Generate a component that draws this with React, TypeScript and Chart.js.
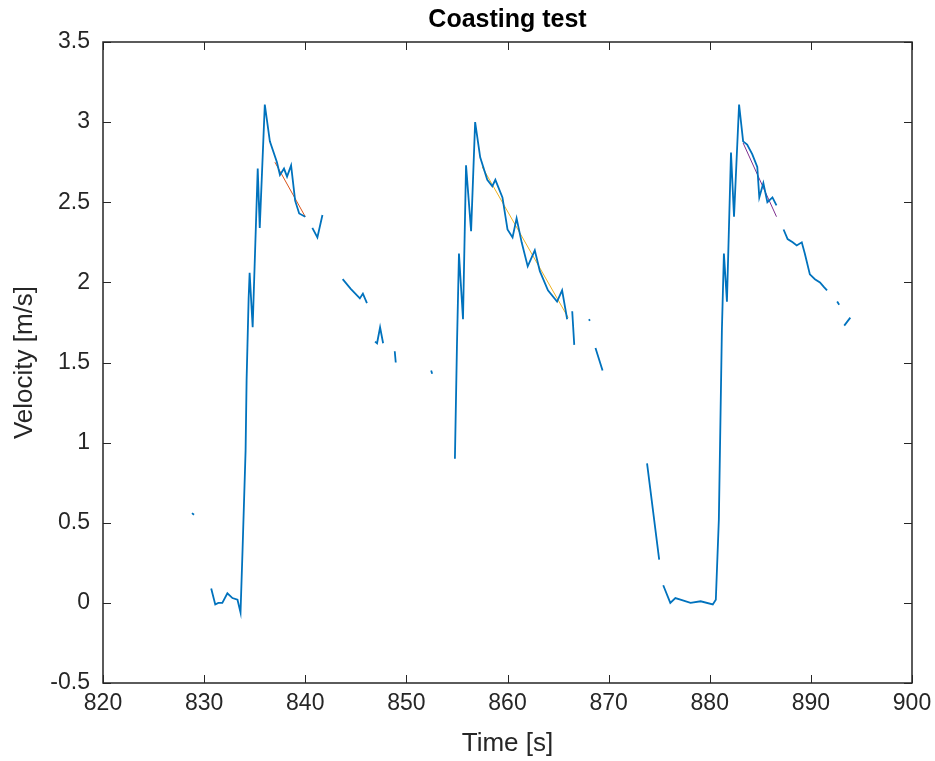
import React, { useEffect, useRef } from "react";
import { Chart, registerables } from "chart.js";

Chart.register(...registerables);

const time: (number | null)[] = [
  828.8, 829.0, null,
  830.7, 831.1, 831.4, 831.8, 832.3, 832.8, 833.3, 833.6, 833.8, 834.1, 834.2, 834.4, 834.5, 834.8, 835.3, 835.5, 836.0, 836.5, 837.2, 837.5, 837.9, 838.2, 838.6, 839.0, 839.4, 840.0, null,
  840.7, 841.2, 841.7, null,
  843.7, 844.5, 845.4, 845.7, 846.1, null,
  846.9, 847.1, 847.4, 847.7, null,
  848.85, 848.95, null,
  852.45, 852.55, null,
  854.8, 855.0, 855.2, 855.6, 855.9, 856.4, 856.8, 857.3, 858.0, 858.5, 858.8, 859.5, 860.0, 860.5, 860.9, 861.4, 862.0, 862.7, 863.2, 864.0, 864.9, 865.4, 865.9, null,
  866.4, 866.6, null,
  868.05, 868.15, null,
  868.7, 869.4, null,
  873.8, 875.0, null,
  875.4, 876.1, 876.6, 877.1, 878.1, 879.1, 880.3, 880.6, 880.9, 881.2, 881.4, 881.7, 882.1, 882.4, 882.9, 883.3, 883.7, 884.2, 884.7, 884.9, 885.3, 885.7, 886.2, 886.6, null,
  887.3, 887.7, 888.2, 888.6, 889.1, 889.4, 889.9, 890.4, 890.9, 891.3, 891.6, null,
  892.6, 892.8, null,
  893.3, 893.9,
];

const velocity: (number | null)[] = [
  0.56, 0.55, null,
  0.09, -0.01, 0.0, 0.0, 0.06, 0.03, 0.02, -0.06, 0.33, 0.95, 1.39, 1.9, 2.06, 1.72, 2.71, 2.34, 3.11, 2.88, 2.75, 2.67, 2.71, 2.66, 2.73, 2.51, 2.43, 2.41, null,
  2.34, 2.28, 2.42, null,
  2.02, 1.96, 1.9, 1.93, 1.87, null,
  1.63, 1.62, 1.72, 1.62, null,
  1.57, 1.5, null,
  1.45, 1.43, null,
  0.9, 1.6, 2.18, 1.77, 2.73, 2.32, 3.0, 2.78, 2.64, 2.6, 2.64, 2.53, 2.33, 2.28, 2.4, 2.25, 2.1, 2.2, 2.07, 1.95, 1.88, 1.95, 1.77, null,
  1.82, 1.61, null,
  1.77, 1.76, null,
  1.59, 1.45, null,
  0.87, 0.27, null,
  0.11, 0.0, 0.03, 0.02, 0.0, 0.01, -0.01, 0.02, 0.52, 1.7, 2.18, 1.88, 2.81, 2.41, 3.11, 2.88, 2.86, 2.8, 2.72, 2.53, 2.62, 2.5, 2.53, 2.48, null,
  2.33, 2.27, 2.25, 2.23, 2.25, 2.18, 2.05, 2.02, 2.0, 1.97, 1.95, null,
  1.88, 1.86, null,
  1.73, 1.78,
];

const fit1Time = [837.0, 840.0];
const fit1Vel = [2.75, 2.41];
const fit2Time = [857.5, 866.0];
const fit2Vel = [2.72, 1.78];
const fit3Time = [883.3, 886.6];
const fit3Vel = [2.87, 2.41];

const xTicks = [820, 830, 840, 850, 860, 870, 880, 890, 900];
const yTicks = [-0.5, 0, 0.5, 1, 1.5, 2, 2.5, 3, 3.5];

const titleText = "Coasting test";
const xLabel = "Time [s]";
const yLabel = "Velocity [m/s]";

const FONT = "'Liberation Sans', Arial, Helvetica, sans-serif";
const AX = "#262626";

function pts(xs: (number | null)[], ys: (number | null)[]) {
  return xs.map((x, i) => {
    if (x === null || ys[i] === null) {
      const prev = xs[i - 1] as number;
      const next = (xs[i + 1] ?? prev) as number;
      return { x: (prev + next) / 2, y: NaN };
    }
    return { x: x as number, y: ys[i] as number };
  });
}

const framePlugin = {
  id: "matlabFrame",
  afterDraw(chart: any) {
    const { ctx, chartArea } = chart;
    const xs = chart.scales.x;
    const ys = chart.scales.y;
    const { left, right, top, bottom } = chartArea;
    ctx.save();
    ctx.strokeStyle = AX;
    ctx.lineWidth = 1;
    ctx.beginPath();
    for (const v of xTicks) {
      const px = Math.round(xs.getPixelForValue(v)) + 0.5;
      ctx.moveTo(px, bottom);
      ctx.lineTo(px, bottom - 8);
      ctx.moveTo(px, top);
      ctx.lineTo(px, top + 8);
    }
    for (const v of yTicks) {
      const py = Math.round(ys.getPixelForValue(v)) + 0.5;
      ctx.moveTo(left, py);
      ctx.lineTo(left + 8, py);
      ctx.moveTo(right, py);
      ctx.lineTo(right - 8, py);
    }
    ctx.stroke();
    ctx.lineWidth = 1.5;
    ctx.strokeRect(left, top, right - left, bottom - top);

    ctx.fillStyle = "#000";
    ctx.textAlign = "center";
    ctx.textBaseline = "middle";
    ctx.font = `bold 25px ${FONT}`;
    const cx = (left + right) / 2;
    ctx.fillText(titleText, cx, 20);
    ctx.fillStyle = AX;
    ctx.font = `26px ${FONT}`;
    ctx.fillText(xLabel, cx, 744);
    ctx.translate(25, (top + bottom) / 2);
    ctx.rotate(-Math.PI / 2);
    ctx.fillText(yLabel, 0, 0);
    ctx.restore();
  },
};

export default function App() {
  const ref = useRef<HTMLCanvasElement | null>(null);
  useEffect(() => {
    document.body.style.margin = "0";
    const canvas = ref.current!;
    const chart = new Chart(canvas, {
      type: "line",
      data: {
        datasets: [
          {
            data: pts(time, velocity),
            borderColor: "#0072BD",
            borderWidth: 1.8,
            pointRadius: 0,
            spanGaps: false,
            tension: 0,
          },
          {
            data: pts(fit1Time, fit1Vel),
            borderColor: "#D95319",
            borderWidth: 1,
            pointRadius: 0,
          },
          {
            data: pts(fit2Time, fit2Vel),
            borderColor: "#EDB120",
            borderWidth: 1,
            pointRadius: 0,
          },
          {
            data: pts(fit3Time, fit3Vel),
            borderColor: "#7E2F8E",
            borderWidth: 1,
            pointRadius: 0,
          },
        ],
      },
      options: {
        animation: false,
        responsive: false,
        parsing: false,
        layout: { padding: { top: 42, right: 23, left: 0, bottom: 0 } },
        plugins: { legend: { display: false }, tooltip: { enabled: false }, title: { display: false } },
        scales: {
          x: {
            type: "linear",
            min: 820,
            max: 900,
            afterFit: (s: any) => { s.height = 78; s.paddingRight = 0; s.paddingLeft = 0; },
            afterBuildTicks: (s: any) => { s.ticks = xTicks.map((v) => ({ value: v })); },
            grid: { display: false, drawTicks: false },
            border: { display: false },
            ticks: { color: AX, font: { family: FONT, size: 23 }, padding: 7, maxRotation: 0, autoSkip: false },
          },
          y: {
            type: "linear",
            min: -0.5,
            max: 3.5,
            afterFit: (s: any) => { s.width = 103; },
            afterBuildTicks: (s: any) => { s.ticks = yTicks.map((v) => ({ value: v })); },
            grid: { display: false, drawTicks: false },
            border: { display: false },
            ticks: {
              color: AX,
              font: { family: FONT, size: 23 },
              padding: 13,
              autoSkip: false,
              callback: (v: any) => String(Number(v)),
            },
          },
        },
      },
      plugins: [framePlugin],
    } as any);
    return () => chart.destroy();
  }, []);
  return (
    <div style={{ position: "fixed", left: 0, top: 0, width: 935, height: 761, background: "#fff" }}>
      <canvas ref={ref} width={935} height={761} style={{ width: 935, height: 761, display: "block" }} />
    </div>
  );
}
